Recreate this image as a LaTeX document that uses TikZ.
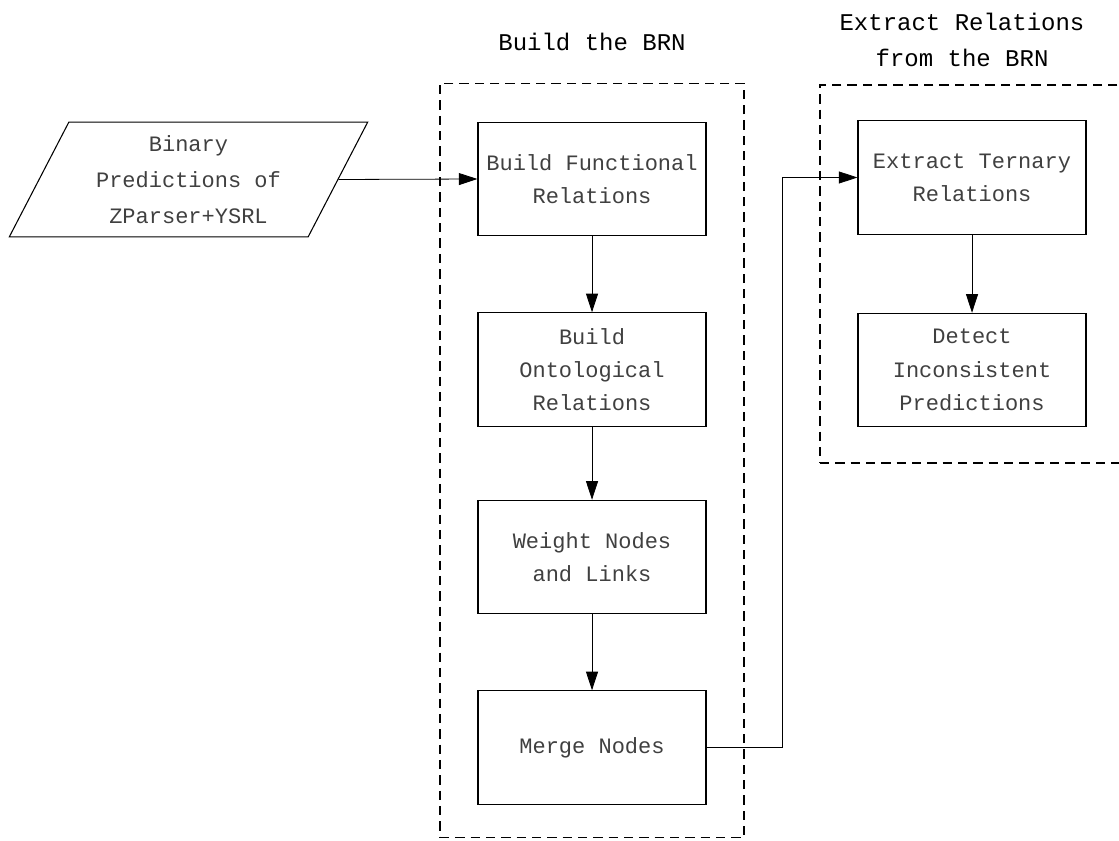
\documentclass[tikz,border=0pt]{standalone}
\usepackage{fontspec}
\setmainfont{Liberation Mono}
\usetikzlibrary{arrows.meta, shapes.geometric}

\begin{document}
\begin{tikzpicture}[x=0.75pt, y=-0.75pt, >={Triangle[length=14pt, width=9pt]},
  every node/.style={font=\fontsize{16.5}{25}\selectfont, text=black!75},
  stepbox/.style={draw, line width=0.8pt, align=center, minimum width=171pt, minimum height=85pt},
  groupbox/.style={draw, dashed, dash pattern=on 7pt off 4.5pt, line width=0.9pt},
  heading/.style={align=center, text=black, font=\fontsize{18}{27}\selectfont},
  flow/.style={->, line width=0.6pt}]
  \useasboundingbox (0,0) rectangle (1119,841);
  % dashed groups
  \node[groupbox, minimum width=228pt, minimum height=566pt] (brnbox) at (592,460.5) {};
  \node[groupbox, minimum width=240pt, minimum height=283.5pt] (extbox) at (980,274) {};
  \node[heading] (brnhead) at (592,42) {Build the BRN};
  \node[heading] (exthead) at (962,40) {Extract Relations\\from the BRN};
  % input
  \node[draw, line width=0.8pt, trapezium, trapezium stretches=true, trapezium left angle=63.6, trapezium right angle=116.4,
        minimum width=269pt, minimum height=86pt, align=center, font=\fontsize{16.5}{27}\selectfont] (pred) at (188.5,179.5) {Binary\\Predictions of\\ZParser+YSRL};
  % build the BRN
  \node[stepbox] (funct) at (592,179) {Build Functional\\Relations};
  \node[stepbox] (onto) at (592,369.5) {Build\\Ontological\\Relations};
  \node[stepbox] (weight) at (592,557) {Weight Nodes\\and Links};
  \node[stepbox] (merge) at (592,747.5) {Merge Nodes};
  % extract relations
  \node[stepbox] (ternary) at (972,177.5) {Extract Ternary\\Relations};
  \node[stepbox] (detect) at (972,370) {Detect\\Inconsistent\\Predictions};
  % connectors
  \draw[flow] (pred.east) -- (funct.west);
  \draw[flow] (funct) -- (onto);
  \draw[flow] (onto) -- (weight);
  \draw[flow] (weight) -- (merge);
  \draw[flow] (merge.east) -- ++(76,0) |- (ternary.west);
  \draw[flow] (ternary) -- (detect);
\end{tikzpicture}
\end{document}
